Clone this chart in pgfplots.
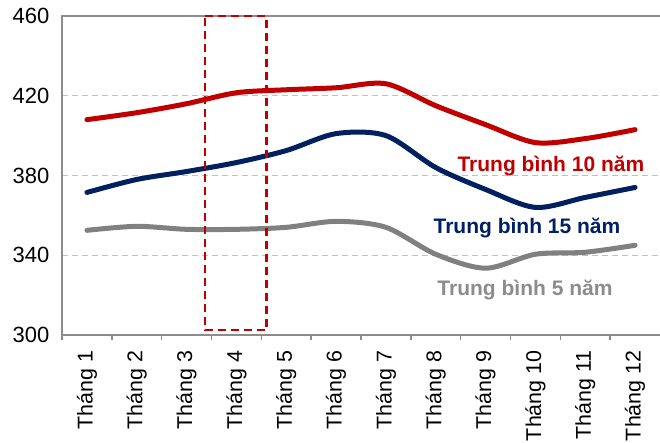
\documentclass[border=0pt]{standalone}
\usepackage{fontspec}
\setmainfont{Liberation Sans}
\usepackage{pgfplots}
\pgfplotsset{compat=1.18}
\definecolor{cred}{HTML}{C00000}
\definecolor{cblue}{HTML}{002060}
\definecolor{cgray}{HTML}{808080}
\definecolor{axgray}{HTML}{8C8C8C}
\definecolor{gridgray}{HTML}{C0C0C0}
\begin{document}
\begin{tikzpicture}
\begin{axis}[
  width=299pt, height=159.5pt, scale only axis,
  xmin=-0.5, xmax=11.5, ymin=300, ymax=460,
  axis line style={draw=none},
  xtick pos=bottom, ytick pos=left,
  xtick={0,...,11},
  xticklabels={Tháng 1,Tháng 2,Tháng 3,Tháng 4,Tháng 5,Tháng 6,Tháng 7,Tháng 8,Tháng 9,Tháng 10,Tháng 11,Tháng 12},
  major x tick style={draw=none},
  minor xtick={-0.5,0.5,...,10.5},
  minor x tick style={draw=axgray, line width=0.8pt},
  minor tick length=2.5pt,
  tick align=outside,
  ytick={300,340,380,420,460},
  y tick style={draw=none},
  ymajorgrids, grid style={gridgray, line width=0.7pt, dash pattern=on 3pt off 2pt},
  /pgf/number format/assume math mode=true,
  yticklabel style={font=\fontsize{11}{13}\selectfont, xshift=1.5pt},
  xticklabel style={rotate=90, anchor=east, font=\fontsize{10.7}{12}\selectfont},
  clip=false,
]
\coordinate (o) at (rel axis cs:0,0);
\coordinate (tr) at (rel axis cs:1,1);
\draw[axgray, line width=0.9pt] (rel axis cs:0,0) -- (rel axis cs:1,0);
\draw[axgray, line width=0.9pt] (rel axis cs:0,-0.016) -- (rel axis cs:0,1) -- (rel axis cs:1,1);
\addplot[cred, line width=2.5pt, smooth, tension=0.5, line cap=round] coordinates {
 (0,408) (1,411.5) (2,416) (3,421.5) (4,423) (5,424) (6,426) (7,415) (8,405.5) (9,396.5) (10,398.5) (11,403)};
\addplot[cblue, line width=2.5pt, smooth, tension=0.5, line cap=round] coordinates {
 (0,371.5) (1,378) (2,382) (3,386.5) (4,392.5) (5,401) (6,400) (7,384) (8,373) (9,364) (10,369) (11,374)};
\addplot[cgray, line width=2.5pt, smooth, tension=0.5, line cap=round] coordinates {
 (0,352.5) (1,354.5) (2,353) (3,353) (4,354) (5,357) (6,354) (7,340.5) (8,333.5) (9,340.5) (10,341.5) (11,345)};
\addplot[cred, line width=1.25pt, dash pattern=on 4pt off 2.5pt] coordinates {
 (2.37,460) (3.6,460) (3.6,302.5) (2.37,302.5) (2.37,460)};
\node[cred, font=\bfseries\fontsize{10.5}{12}\selectfont] at (axis cs:9.31,384.8) {Trung bình 10 năm};
\node[cblue, font=\bfseries\fontsize{10.5}{12}\selectfont] at (axis cs:8.83,353.7) {Trung bình 15 năm};
\node[axgray, font=\bfseries\fontsize{10.5}{12}\selectfont] at (axis cs:8.79,322.6) {Trung bình 5 năm};
\end{axis}
\pgfresetboundingbox
\path[use as bounding box] ([xshift=-31pt,yshift=-54pt]o) rectangle ([yshift=8pt]tr);
\end{tikzpicture}
\end{document}
